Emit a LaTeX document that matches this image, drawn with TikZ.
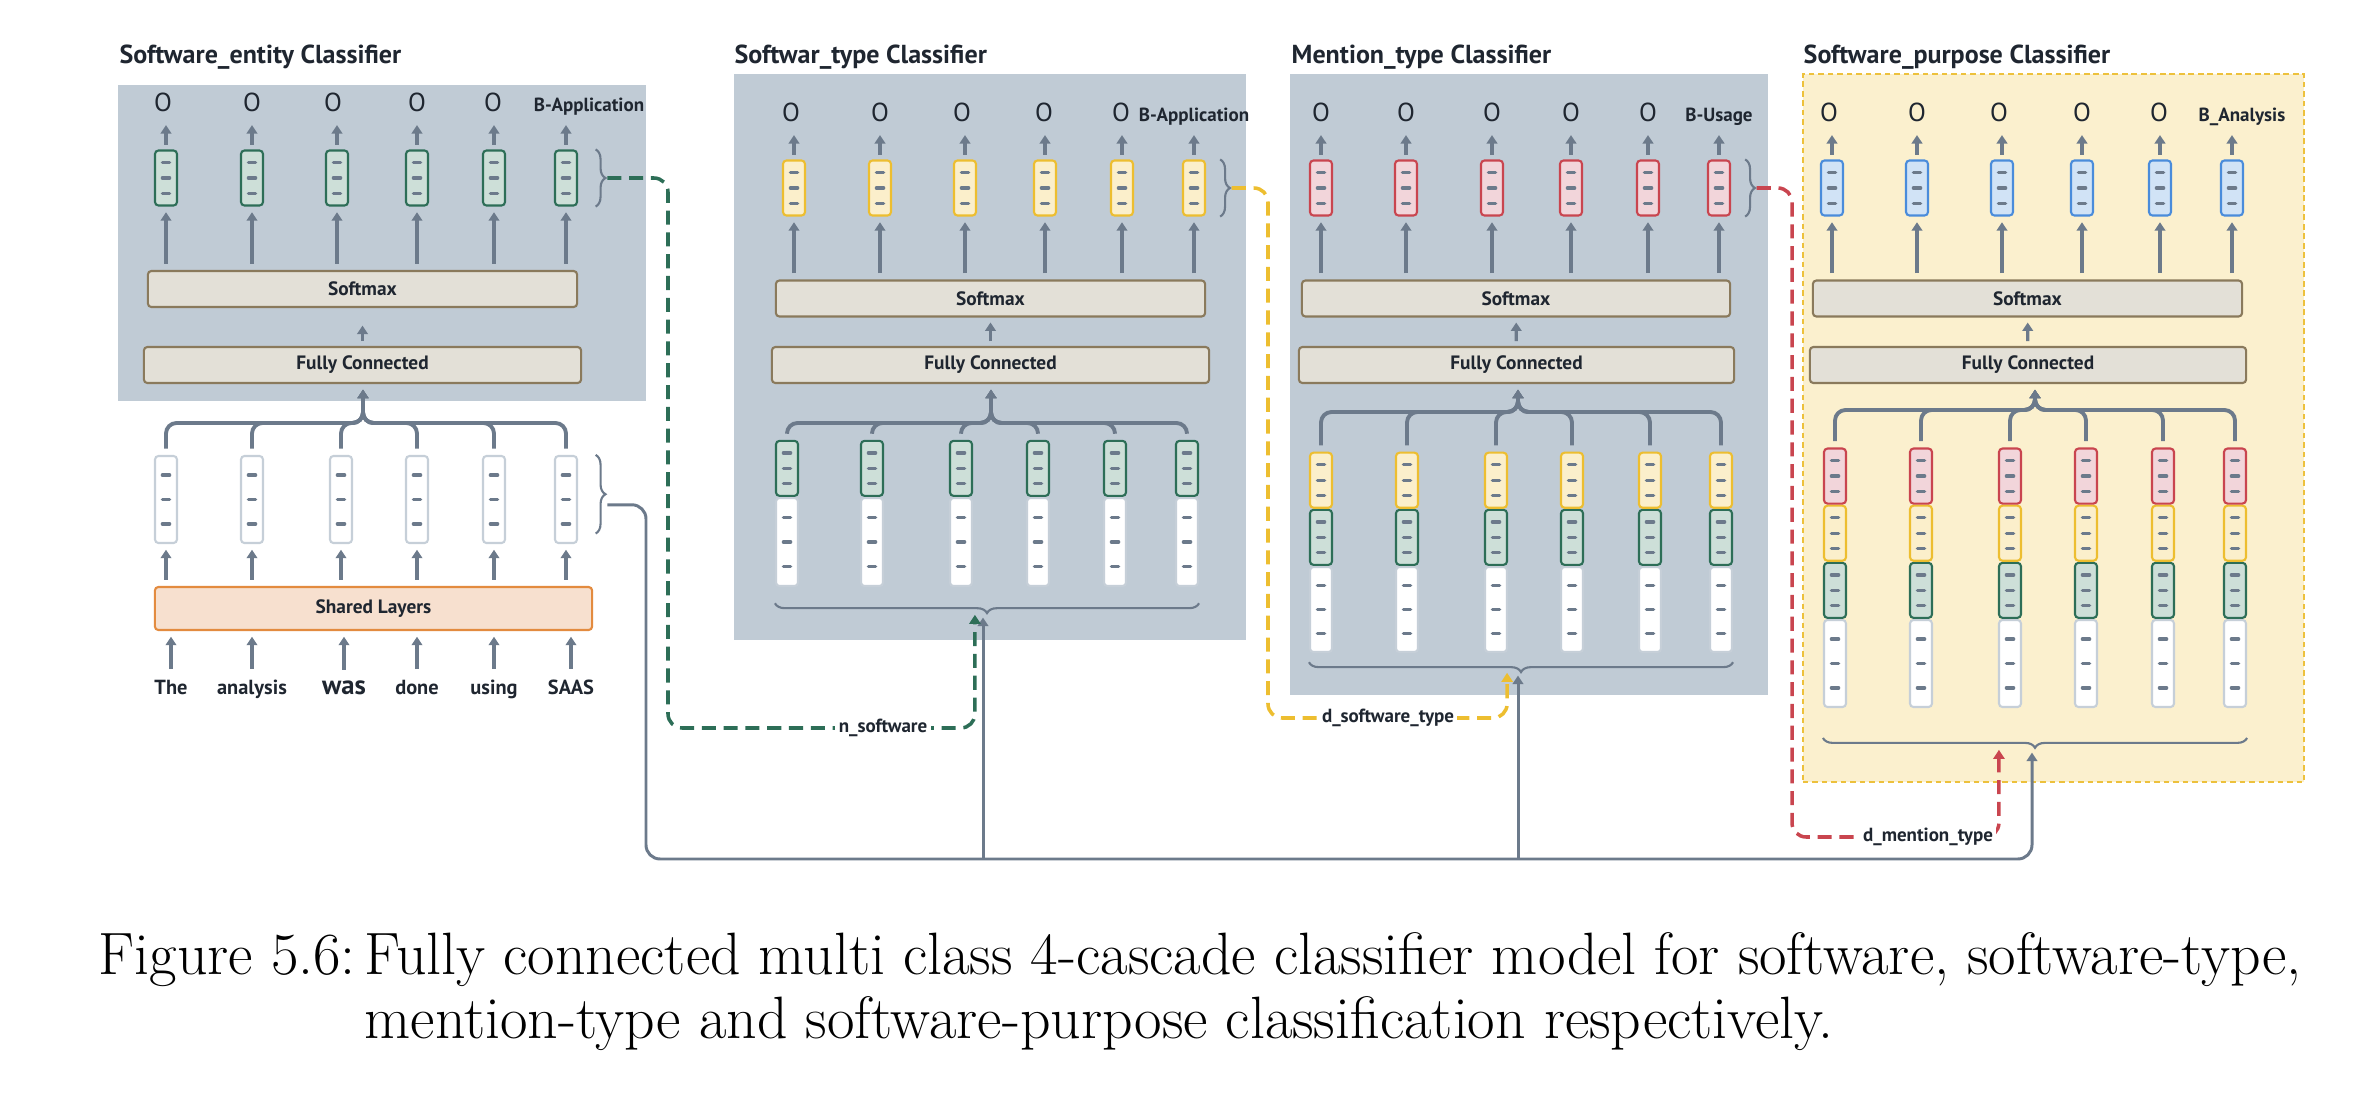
\documentclass[tikz,border=0pt]{standalone}
\usepackage{fontspec}
\newfontfamily\dinfont{PT Sans}
\usetikzlibrary{arrows.meta, positioning, calc, decorations.pathreplacing}
\definecolor{ink}{HTML}{1F2630}
\definecolor{panelgray}{HTML}{C0CBD5}
\definecolor{arrowgray}{HTML}{6C7A8B}
\definecolor{dashgray}{HTML}{6C7A8B}
\definecolor{layerline}{HTML}{8A7A5C}
\definecolor{layerfill}{HTML}{E3E0D7}
\definecolor{sharedline}{HTML}{E38B3F}
\definecolor{sharedfill}{HTML}{F7E0CF}
\definecolor{greenline}{HTML}{2D6E57}
\definecolor{greenfill}{HTML}{CDDFD8}
\definecolor{yellowline}{HTML}{EDBE30}
\definecolor{yellowfill}{HTML}{FBEFCB}
\definecolor{redline}{HTML}{C9454F}
\definecolor{redfill}{HTML}{F2D5DA}
\definecolor{blueline}{HTML}{4A8CDB}
\definecolor{bluefill}{HTML}{D1E3F6}
\definecolor{whiteline}{HTML}{C6CFD8}
\definecolor{purline}{HTML}{EDC13C}
\definecolor{purfill}{HTML}{FBF0CE}

\begin{document}
\begin{tikzpicture}[
  x=0.01cm, y=-0.01cm,
  panel/.style={rectangle, fill=panelgray, inner sep=0pt},
  title/.style={anchor=west, inner sep=0pt, text=ink, font=\dinfont\bfseries\fontsize{7.4}{8}\selectfont},
  layer/.style={rectangle, draw=layerline, fill=layerfill, line width=0.6pt, rounded corners=1pt,
    minimum height=0.36cm, inner sep=0pt, text=ink, font=\dinfont\bfseries\fontsize{5.5}{6}\selectfont},
  vec/.style={rectangle, rounded corners=1pt, line width=0.6pt, minimum width=0.22cm, minimum height=0.55cm,
    inner sep=0pt, path picture={\foreach \k in {0.22,0.5,0.78}
      \draw[dashgray, line width=0.95pt, line cap=round]
        ($(path picture bounding box.north)!\k!(path picture bounding box.south)$) +(-3.6,0) -- +(3.6,0);}},
  vgreen/.style={vec, draw=greenline, fill=greenfill},
  vyellow/.style={vec, draw=yellowline, fill=yellowfill},
  vred/.style={vec, draw=redline, fill=redfill},
  vblue/.style={vec, draw=blueline, fill=bluefill},
  vwhite/.style={vec, draw=whiteline, fill=white, minimum height=0.87cm},
  tag/.style={anchor=base, inner sep=0pt, text=ink, font=\dinfont\fontsize{7.4}{8}\selectfont},
  cls/.style={anchor=base, inner sep=1pt, text=ink, font=\dinfont\bfseries\fontsize{5.4}{6}\selectfont},
  line/.style={-{Triangle[length=2.4pt, width=3pt]}, line width=0.9pt, draw=arrowgray, shorten >=1.6pt, shorten <=1.8pt},
  fork/.style={line, line width=1.1pt, rounded corners=3pt},
  feed/.style={line, line width=0.85pt, rounded corners=4pt, shorten <=0pt},
  cascade/.style={-{Triangle[length=2.6pt, width=3.2pt]}, line width=1pt, dash pattern=on 4pt off 2.2pt,
    rounded corners=4pt, shorten >=0.8pt},
  cut/.style={fill=white, inner sep=1pt, text=ink, font=\dinfont\bfseries\fontsize{5.4}{6}\selectfont},
  bracket/.style={draw=arrowgray, line width=0.6pt, decorate, decoration={brace, amplitude=2.8pt}},
  caption/.style={anchor=base west, inner sep=0pt, font=\fontsize{17}{20}\selectfont}
  ]
  \useasboundingbox (0,0) rectangle (2368,1106);

  % Software_entity classifier
  \node[panel, minimum width=5.28cm, minimum height=3.16cm] (ent) at (382,243) {};
  \node[title] (ent-t) at (119,57) {Software\_entity Classifier};
  \node[layer, minimum width=4.29cm] (ent-sm) at (362.5,289) {Softmax};
  \node[layer, minimum width=4.37cm] (ent-fc) at (362.5,365) {Fully Connected};
  \foreach \x [count=\i] in {166,252,337,417,494,566} {
    \node[vgreen] (ent-v\i) at (\x,178) {};
    \draw[line] (ent-sm.north -| ent-v\i) -- (ent-v\i);
  }
  \foreach \x [count=\i] in {163,252,333,417,493}
    \node[tag] (ent-o\i) at (\x,111) {O};
  \node[cls] (ent-o6) at (589,111) {B-Application};
  \foreach \i in {1,...,6}
    \draw[line, shorten >=4pt, shorten <=1.4pt] (ent-v\i) -- (ent-v\i |- ent-o\i.base);
  \draw[line, shorten >=5pt, shorten <=1.4pt] (ent-fc) -- (ent-sm);

  % shared part
  \node[layer, draw=sharedline, fill=sharedfill, minimum width=4.37cm, minimum height=0.43cm] (shared) at (373.5,608.5) {Shared Layers};
  \coordinate (ent-j) at (363,423);
  \foreach \x [count=\i] in {166,252,341,417,494,566} {
    \node[vwhite] (ent-s\i) at (\x,499.5) {};
    \draw[line] (shared.north -| ent-s\i) -- (ent-s\i);
    \draw[fork] (ent-s\i) -- (ent-s\i.north |- ent-j) -- (ent-j) -- (ent-j |- ent-fc.south);
  }
  \foreach \x/\w/\s [count=\i] in {171/The/5.8, 252/analysis/5.8, 344/was/7.6, 417/done/5.8, 494/using/5.8, 571/SAAS/5.8}
    \node[cls, font=\dinfont\bfseries\fontsize{\s}{8}\selectfont] (w\i) at (\x,694) {\w};
  \foreach \i in {1,...,6}
    \draw[line] (w\i) -- (shared.south -| w\i);

  \draw[bracket] ([xshift=5pt]ent-v6.north east) -- ([xshift=5pt]ent-v6.south east);
  \coordinate (ent-br) at ($(ent-v6.east)+(8.3pt,0)$);
  \draw[bracket] ([xshift=5pt]ent-s6.north east) -- ([xshift=5pt,yshift=3pt]ent-s6.south east);
  \coordinate (ent-sb) at ($(ent-s6.east)+(8.3pt,-1.5pt)$);

  % Softwar_type classifier
  \node[panel, minimum width=5.12cm, minimum height=5.66cm] (typ) at (990,357) {};
  \node[title] (typ-t) at (734,57) {Softwar\_type Classifier};
  \node[layer, minimum width=4.29cm] (typ-sm) at (990.5,298.5) {Softmax};
  \node[layer, minimum width=4.37cm] (typ-fc) at (990.5,365) {Fully Connected};
  \foreach \x [count=\i] in {794,880,965,1045,1122,1194} {
    \node[vyellow] (typ-v\i) at (\x,188) {};
    \draw[line] (typ-sm.north -| typ-v\i) -- (typ-v\i);
  }
  \foreach \x [count=\i] in {791,880,962,1044,1121}
    \node[tag] (typ-o\i) at (\x,121) {O};
  \node[cls] (typ-o6) at (1194,121) {B-Application};
  \foreach \i in {1,...,6}
    \draw[line, shorten >=4pt, shorten <=1.4pt] (typ-v\i) -- (typ-v\i |- typ-o\i.base);
  \draw[line, shorten >=1.4pt, shorten <=1.4pt] (typ-fc) -- (typ-sm);
  \coordinate (typ-j) at (991,423);
  \foreach \x [count=\i] in {787,872,961,1038,1115,1187} {
    \node[vwhite, minimum height=0.88cm] (typ-b\i) at (\x,542) {};
    \node[vgreen, above=0pt of typ-b\i] (typ-a\i) {};
    \draw[fork] (typ-a\i) -- (typ-a\i.north |- typ-j) -- (typ-j) -- (typ-j |- typ-fc.south);
  }
  \draw[bracket] ([yshift=-4.6pt]typ-b6.south east) -- ([yshift=-4.6pt]typ-b1.south west);
  \coordinate (typ-bt) at (983,612);
  \draw[bracket] ([xshift=4pt]typ-v6.north east) -- ([xshift=4pt]typ-v6.south east);
  \coordinate (typ-br) at ($(typ-v6.east)+(7.3pt,0)$);

  % Mention_type classifier
  \node[panel, minimum width=4.78cm, minimum height=6.21cm] (men) at (1529,384.5) {};
  \node[title] (men-t) at (1291,57) {Mention\_type Classifier};
  \node[layer, minimum width=4.28cm] (men-sm) at (1516,298.5) {Softmax};
  \node[layer, minimum width=4.35cm] (men-fc) at (1516.5,365) {Fully Connected};
  \foreach \x [count=\i] in {1321,1406,1492,1571,1648,1719} {
    \node[vred] (men-v\i) at (\x,188) {};
    \draw[line] (men-sm.north -| men-v\i) -- (men-v\i);
  }
  \foreach \x [count=\i] in {1321,1406,1492,1571,1648}
    \node[tag] (men-o\i) at (\x,121) {O};
  \node[cls] (men-o6) at (1719,121) {B-Usage};
  \foreach \i in {1,...,6}
    \draw[line, shorten >=4pt, shorten <=1.4pt] (men-v\i) -- (men-v\i |- men-o\i.base);
  \draw[line, shorten >=1.4pt, shorten <=1.4pt] (men-fc) -- (men-sm);
  \coordinate (men-j) at (1518,412);
  \foreach \x [count=\i] in {1321,1407,1496,1572,1650,1721} {
    \node[vwhite, minimum height=0.85cm] (men-c\i) at (\x,609.5) {};
    \node[vgreen, above=0pt of men-c\i] (men-b\i) {};
    \node[vyellow, above=0pt of men-b\i] (men-a\i) {};
    \draw[fork] (men-a\i) -- (men-a\i.north |- men-j) -- (men-j) -- (men-j |- men-fc.south);
  }
  \draw[bracket] ([yshift=-2.6pt]men-c6.south east) -- ([yshift=-2.6pt]men-c1.south west);
  \coordinate (men-bt) at (1518,670);
  \draw[bracket] ([xshift=4pt]men-v6.north east) -- ([xshift=4pt]men-v6.south east);
  \coordinate (men-br) at ($(men-v6.east)+(7.3pt,0)$);

  % Software_purpose classifier
  \node[panel, fill=purfill, draw=purline, line width=0.6pt, dash pattern=on 1.6pt off 1.1pt,
    minimum width=5.01cm, minimum height=7.08cm] (pur) at (2053.5,428) {};
  \node[title] (pur-t) at (1803,57) {Software\_purpose Classifier};
  \node[layer, minimum width=4.29cm] (pur-sm) at (2027.5,298.5) {Softmax};
  \node[layer, minimum width=4.36cm] (pur-fc) at (2028,365) {Fully Connected};
  \foreach \x [count=\i] in {1832,1917,2002,2082,2160,2232} {
    \node[vblue] (pur-v\i) at (\x,188) {};
    \draw[line] (pur-sm.north -| pur-v\i) -- (pur-v\i);
  }
  \foreach \x [count=\i] in {1829,1917,1999,2082,2159}
    \node[tag] (pur-o\i) at (\x,121) {O};
  \node[cls] (pur-o6) at (2242,121) {B\_Analysis};
  \foreach \i in {1,...,6}
    \draw[line, shorten >=4pt, shorten <=1.4pt] (pur-v\i) -- (pur-v\i |- pur-o\i.base);
  \draw[line, shorten >=1.4pt, shorten <=1.4pt] (pur-fc) -- (pur-sm);
  \coordinate (pur-j) at (2035,410);
  \foreach \x [count=\i] in {1835,1921,2010,2086,2163,2235} {
    \node[vwhite] (pur-d\i) at (\x,663.5) {};
    \node[vgreen, above=0pt of pur-d\i] (pur-c\i) {};
    \node[vyellow, above=0pt of pur-c\i] (pur-b\i) {};
    \node[vred, above=0pt of pur-b\i] (pur-a\i) {};
    \draw[fork] (pur-a\i) -- (pur-a\i.north |- pur-j) -- (pur-j) -- (pur-j |- pur-fc.south);
  }
  \draw[bracket] ([yshift=-8.5pt]pur-d6.south east) -- ([yshift=-8.5pt]pur-d1.south west);
  \coordinate (pur-bt) at (2032,747);

  % connections between the classifiers
  \coordinate (bus) at (646,859);
  \draw[feed] (ent-sb) -| (bus) -| (pur-bt);
  \draw[feed] (bus -| typ-bt) -- (typ-bt);
  \draw[feed] (bus -| men-bt) -- (men-bt);

  \coordinate (ent-bend) at (668,728);
  \draw[cascade, greenline] (ent-br) -| (ent-bend) -| ([xshift=-2.3pt]typ-bt);
  \node[cut] (nsw) at (883,728) {n\_software};

  \coordinate (typ-bend) at (1268,718);
  \draw[cascade, yellowline] (typ-br) -| (typ-bend) -| ([xshift=-3.1pt]men-bt);
  \node[cut] (dst) at (1388,718) {d\_software\_type};

  \coordinate (men-bend) at (1792,837);
  \draw[cascade, redline] (men-br) -| (men-bend) -| ([xshift=-9.4pt]pur-bt);
  \node[cut] (dmt) at (1928,837) {d\_mention\_type};

  % caption
  \node[caption] (fig) at (98,974) {Figure 5.6:};
  \node[caption] (cap1) at (364,974)
    {Fully connected multi class 4-cascade classifier model for software, software-type,};
  \node[caption] (cap2) at (364,1038)
    {mention-type and software-purpose classification respectively.};
\end{tikzpicture}
\end{document}
